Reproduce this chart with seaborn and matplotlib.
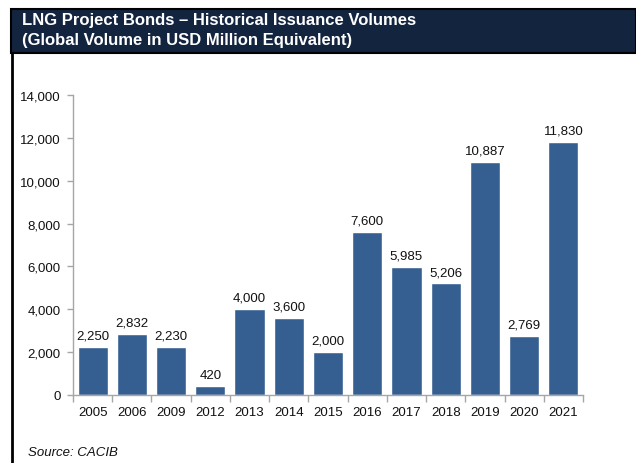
import numpy as np
import pandas as pd
import matplotlib.pyplot as plt
import seaborn as sns
from matplotlib.patches import Rectangle
from matplotlib.lines import Line2D

years = ['2005', '2006', '2009', '2012', '2013', '2014', '2015', '2016',
         '2017', '2018', '2019', '2020', '2021']
volumes = [2250, 2832, 2230, 420, 4000, 3600, 2000, 7600, 5985, 5206, 10887, 2769, 11830]
yticks = [0, 2000, 4000, 6000, 8000, 10000, 12000, 14000]

df = pd.DataFrame({'year': years, 'volume': volumes})

sns.set_style('white')
plt.rcParams['font.family'] = ['Liberation Sans', 'DejaVu Sans']

W, H = 636, 464
fig = plt.figure(figsize=(W / 100, H / 100), dpi=100)
ax = fig.add_axes([73 / W, (H - 396) / H, (583 - 73) / W, 300 / H])

sns.barplot(data=df, x='year', y='volume', color='#365F91', saturation=1,
            width=0.77, ax=ax)

# value labels above bars
for i, v in enumerate(volumes):
    ax.text(i, v + 250, f'{v:,}', ha='center', va='bottom', fontsize=9.5, color='#111111')

ax.set_xlim(-0.5, len(years) - 0.5)
ax.set_ylim(0, 14000)
ax.set_yticks(yticks)
ax.set_yticklabels([f'{t:,}' for t in yticks])
ax.set_xlabel('')
ax.set_ylabel('')

axis_grey = '#A6A6A6'
for s in ['top', 'right']:
    ax.spines[s].set_visible(False)
for s in ['left', 'bottom']:
    ax.spines[s].set_color(axis_grey)
    ax.spines[s].set_linewidth(1)

ax.tick_params(axis='y', which='major', length=4, width=1, color=axis_grey,
               labelsize=9.5, labelcolor='#111111', pad=5, left=True)
ax.tick_params(axis='x', which='major', length=0, labelsize=9.5,
               labelcolor='#111111', pad=8)
ax.set_xticks(np.arange(-0.5, len(years), 1), minor=True)
ax.tick_params(axis='x', which='minor', length=5, width=1, color=axis_grey, bottom=True)

# title band
fig.patches.append(Rectangle((11 / W, (H - 54) / H), (W - 11) / W, 44 / H,
                             transform=fig.transFigure, facecolor='#13243F',
                             edgecolor='black', linewidth=1.5, zorder=0))
fig.text(22 / W, (H - 20) / H, 'LNG Project Bonds \u2013 Historical Issuance Volumes',
         color='white', fontsize=12, fontweight='bold', va='center', ha='left')
fig.text(22 / W, (H - 40) / H, '(Global Volume in USD Million Equivalent)',
         color='white', fontsize=12, fontweight='bold', va='center', ha='left')

# left border line
fig.lines.append(Line2D([12 / W, 12 / W], [0, (H - 54) / H], transform=fig.transFigure,
                        color='black', linewidth=2))

fig.text(28 / W, (H - 453) / H, 'Source: CACIB', fontsize=9.5, style='italic',
         color='#111111', va='center', ha='left')

fig.savefig('out.png', dpi=100)
